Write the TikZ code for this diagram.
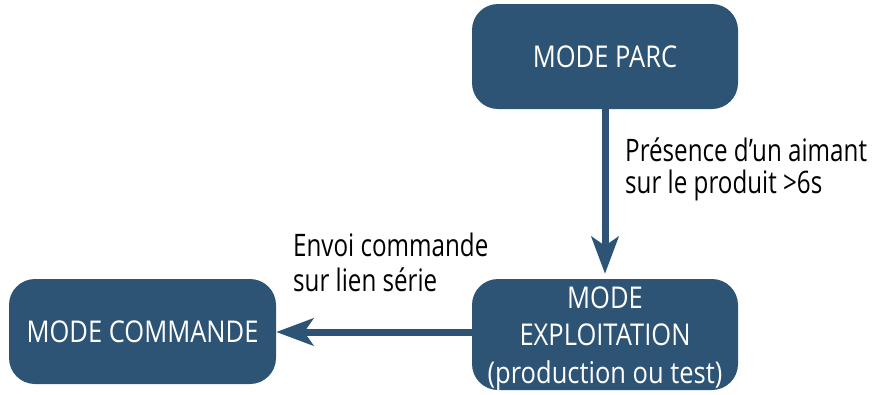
\documentclass[tikz,border=0pt]{standalone}
\usepackage{fontspec}
\setmainfont{Open Sans}[FakeStretch=0.78]
\newfontfamily\boxfont{Open Sans}[FakeStretch=0.85]
\usetikzlibrary{arrows.meta}
\definecolor{boxblue}{HTML}{2E5475}
\tikzset{
  modebox/.style={fill=boxblue, text=white, rounded corners=26pt, inner sep=0pt, align=center,
    font=\boxfont\fontsize{30}{37.5}\selectfont},
  boxtext/.style={text=white, inner sep=0pt, align=center, font=\boxfont\fontsize{30}{37.5}\selectfont},
  flow/.style={draw=boxblue, line width=7pt, -{Stealth[length=37pt, width=27pt, inset=9pt]}},
  lbl/.style={inner sep=0pt, align=left, anchor=north west, text=black}
}
\begin{document}
\begin{tikzpicture}[x=1pt, y=-1pt]
\useasboundingbox (0,0) rectangle (878,394);
\node[modebox, minimum width=266pt, minimum height=105pt] (parc) at (605,56.5) {MODE PARC};
\node[modebox, minimum width=266pt, minimum height=111pt] (expl) at (605,334.5) {};
\node[boxtext] (expltext) at ([yshift=-4pt]expl.center) {MODE\\EXPLOITATION\\(production ou test)};
\node[modebox, minimum width=267pt, minimum height=105pt] (cmd) at (142.5,331.5) {MODE COMMANDE};
\draw[flow, shorten >=5pt] (parc.south) -- (expl.north);
\draw[flow] (expl.west |- 0,332) coordinate (ew) (ew) -- (cmd.east |- ew);
\node[lbl, font=\fontsize{31}{32}\selectfont] (l1) at (625,138) {Présence d’un aimant\\sur le produit >6s};
\node[lbl, font=\fontsize{31}{34.5}\selectfont] (l2) at (293,233) {Envoi commande\\sur lien série};
\end{tikzpicture}
\end{document}
